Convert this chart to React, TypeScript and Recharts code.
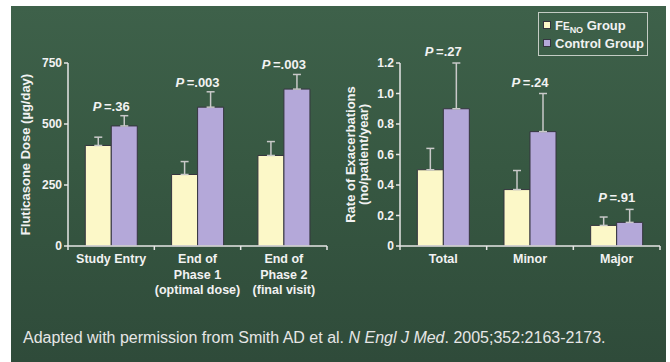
import { ComposedChart, Bar, Line, XAxis, YAxis, ErrorBar, LabelList } from 'recharts'

const seriesNames = ['FENO Group', 'Control Group']
const seriesColors = ['#fcf8c8', '#b4a8d9']

const doseCategories = ['Study Entry', 'End of\nPhase 1\n(optimal dose)', 'End of\nPhase 2\n(final visit)']
const doseFeno = [412, 293, 371]
const doseFenoErr = [34, 53, 57]
const doseControl = [492, 569, 643]
const doseControlErr = [42, 63, 60]
const doseP = ['.36', '.003', '.003']
const doseTicks = [0, 250, 500, 750]

const exacCategories = ['Total', 'Minor', 'Major']
const exacFeno = [0.5, 0.37, 0.135]
const exacFenoErr = [0.14, 0.125, 0.055]
const exacControl = [0.9, 0.75, 0.155]
const exacControlErr = [0.3, 0.25, 0.085]
const exacP = ['.27', '.24', '.91']
const exacTicks = [0, 0.2, 0.4, 0.6, 0.8, 1.0, 1.2]

const FONT = '"Liberation Sans", Arial, sans-serif'
const INK = '#f2f2f2'
const AXIS = '#e6e6e6'
const OUTLINE = '#35353f'
const ERR = '#c9c9c9'

function buildRows(cats: string[], feno: number[], fenoErr: number[], ctrl: number[], ctrlErr: number[], p: string[]) {
  return cats.map((name, i) => ({
    name,
    feno: feno[i],
    fenoErr: [0, fenoErr[i]],
    control: ctrl[i],
    controlErr: [0, ctrlErr[i]],
    pTop: ctrl[i] + ctrlErr[i],
    p: p[i],
  }))
}

const doseRows = buildRows(doseCategories, doseFeno, doseFenoErr, doseControl, doseControlErr, doseP)
const exacRows = buildRows(exacCategories, exacFeno, exacFenoErr, exacControl, exacControlErr, exacP)

function CategoryTick(props: any) {
  const { x, y, payload, index, visibleTicksCount } = props
  const half = payload.offset || 0
  const lines = String(payload.value).split('\n')
  return (
    <g>
      <line x1={x - half} x2={x - half} y1={y} y2={y + 4} stroke={AXIS} strokeWidth={1.5} />
      {index === visibleTicksCount - 1 && (
        <line x1={x + half} x2={x + half} y1={y} y2={y + 4} stroke={AXIS} strokeWidth={1.5} />
      )}
      <text x={x} y={y + 17} textAnchor="middle" fill={INK} fontSize={12.5} fontWeight="bold" fontFamily={FONT}>
        {lines.map((l, i) => (
          <tspan key={i} x={x} dy={i === 0 ? 0 : 15.5}>{l}</tspan>
        ))}
      </text>
    </g>
  )
}

const pLabel = (lift: number) => (props: any) => {
  const { x, y, value } = props
  return (
    <text x={x} y={y - lift} textAnchor="middle" fill={INK} fontSize={13} fontWeight="bold" fontFamily={FONT}>
      <tspan fontStyle="italic">P</tspan>
      <tspan>{'\u2009=' + value}</tspan>
    </text>
  )
}

const axisTitle = (lines: string[], xs: number[]) => (props: any) => {
  const vb = props.viewBox
  const cy = vb.y + vb.height / 2
  return (
    <g>
      {lines.map((l, i) => (
        <text key={i} x={xs[i]} y={cy} transform={`rotate(-90 ${xs[i]} ${cy})`} textAnchor="middle" dominantBaseline="central" fill={INK} fontSize={13} fontWeight="bold" fontFamily={FONT}>
          {l}
        </text>
      ))}
    </g>
  )
}

function seriesLabel(name: string) {
  if (name.startsWith('FENO')) {
    return (
      <span>
        F<span style={{ fontSize: 10 }}>E</span>
        <span style={{ fontSize: 9, position: 'relative', top: 3 }}>NO</span>
        {name.slice(4)}
      </span>
    )
  }
  return <span>{name}</span>
}

function LegendBox() {
  return (
    <div
      style={{
        position: 'absolute',
        left: 538,
        top: 12,
        width: 104,
        border: '1px solid #c4ccc4',
        padding: '3px 0 3px 4px',
        fontFamily: FONT,
        fontWeight: 'bold',
        fontSize: 13,
        color: INK,
      }}
    >
      {seriesNames.map((name, i) => (
        <div key={name} style={{ display: 'flex', alignItems: 'center', height: 18, whiteSpace: 'nowrap' }}>
          <span style={{ display: 'inline-block', width: 6, height: 6, background: seriesColors[i], border: `1px solid ${OUTLINE}`, marginRight: 4 }} />
          {seriesLabel(name)}
        </div>
      ))}
    </div>
  )
}

function GroupChart({ rows, ticks, domain, fmt, yWidth, right, title, titleX, lift }: any) {
  return (
    <ComposedChart
      width={340}
      height={310}
      data={rows}
      margin={{ top: 63, right, bottom: 5, left: 0 }}
      barCategoryGap="20%"
      barGap={0}
    >
      <XAxis
        dataKey="name"
        interval={0}
        height={59}
        stroke={AXIS}
        axisLine={{ stroke: AXIS, strokeWidth: 1.5 }}
        tickLine={false}
        tickSize={0}
        tickMargin={0}
        tick={<CategoryTick />}
      />
      <YAxis
        width={yWidth}
        domain={domain}
        ticks={ticks}
        interval={0}
        tickFormatter={fmt}
        axisLine={{ stroke: AXIS, strokeWidth: 1.5 }}
        tickLine={{ stroke: AXIS, strokeWidth: 1.5 }}
        tickSize={4}
        tickMargin={2}
        tick={{ fill: INK, fontSize: 12, fontWeight: 'bold', fontFamily: FONT }}
        label={{ content: axisTitle(title, titleX) }}
      />
      <Bar dataKey="feno" name={seriesNames[0]} fill={seriesColors[0]} stroke={OUTLINE} strokeWidth={1} isAnimationActive={false}>
        <ErrorBar dataKey="fenoErr" direction="y" width={4} stroke={ERR} strokeWidth={1.5} />
      </Bar>
      <Bar dataKey="control" name={seriesNames[1]} fill={seriesColors[1]} stroke={OUTLINE} strokeWidth={1} isAnimationActive={false}>
        <ErrorBar dataKey="controlErr" direction="y" width={4} stroke={ERR} strokeWidth={1.5} />
      </Bar>
      <Line dataKey="pTop" stroke="none" dot={false} activeDot={false} legendType="none" isAnimationActive={false}>
        <LabelList dataKey="p" content={pLabel(lift)} />
      </Line>
    </ComposedChart>
  )
}

export default function App() {
  return (
    <div style={{ position: 'absolute', left: 0, top: 0, width: 670, height: 362, background: '#ffffff', overflow: 'hidden' }}>
      <div
        style={{
          position: 'absolute',
          left: 11,
          top: 6,
          width: 655,
          height: 356,
          background: 'linear-gradient(180deg, #3e614a 0%, #375842 45%, #2f4b3a 100%)',
        }}
      />
      <div style={{ position: 'absolute', left: 0, top: 0 }}>
        <GroupChart
          rows={doseRows}
          ticks={doseTicks}
          domain={[0, 750]}
          fmt={(v: number) => String(v)}
          yWidth={68}
          right={13}
          title={['Fluticasone Dose (\u00b5g/day)']}
          titleX={[25]}
          lift={5}
        />
      </div>
      <div style={{ position: 'absolute', left: 330, top: 0 }}>
        <GroupChart
          rows={exacRows}
          ticks={exacTicks}
          domain={[0, 1.2]}
          fmt={(v: number) => (v === 0 ? '0' : v.toFixed(1))}
          yWidth={70}
          right={10}
          title={['Rate of Exacerbations', '(no/patient/year)']}
          titleX={[20, 33]}
          lift={7}
        />
      </div>
      <LegendBox />
      <div
        style={{
          position: 'absolute',
          left: 23,
          top: 329,
          fontFamily: FONT,
          fontSize: 16,
          color: '#e6e6e6',
          whiteSpace: 'nowrap',
        }}
      >
        Adapted with permission from Smith AD et al. <i>N Engl J Med</i>. 2005;352:2163-2173.
      </div>
    </div>
  )
}
